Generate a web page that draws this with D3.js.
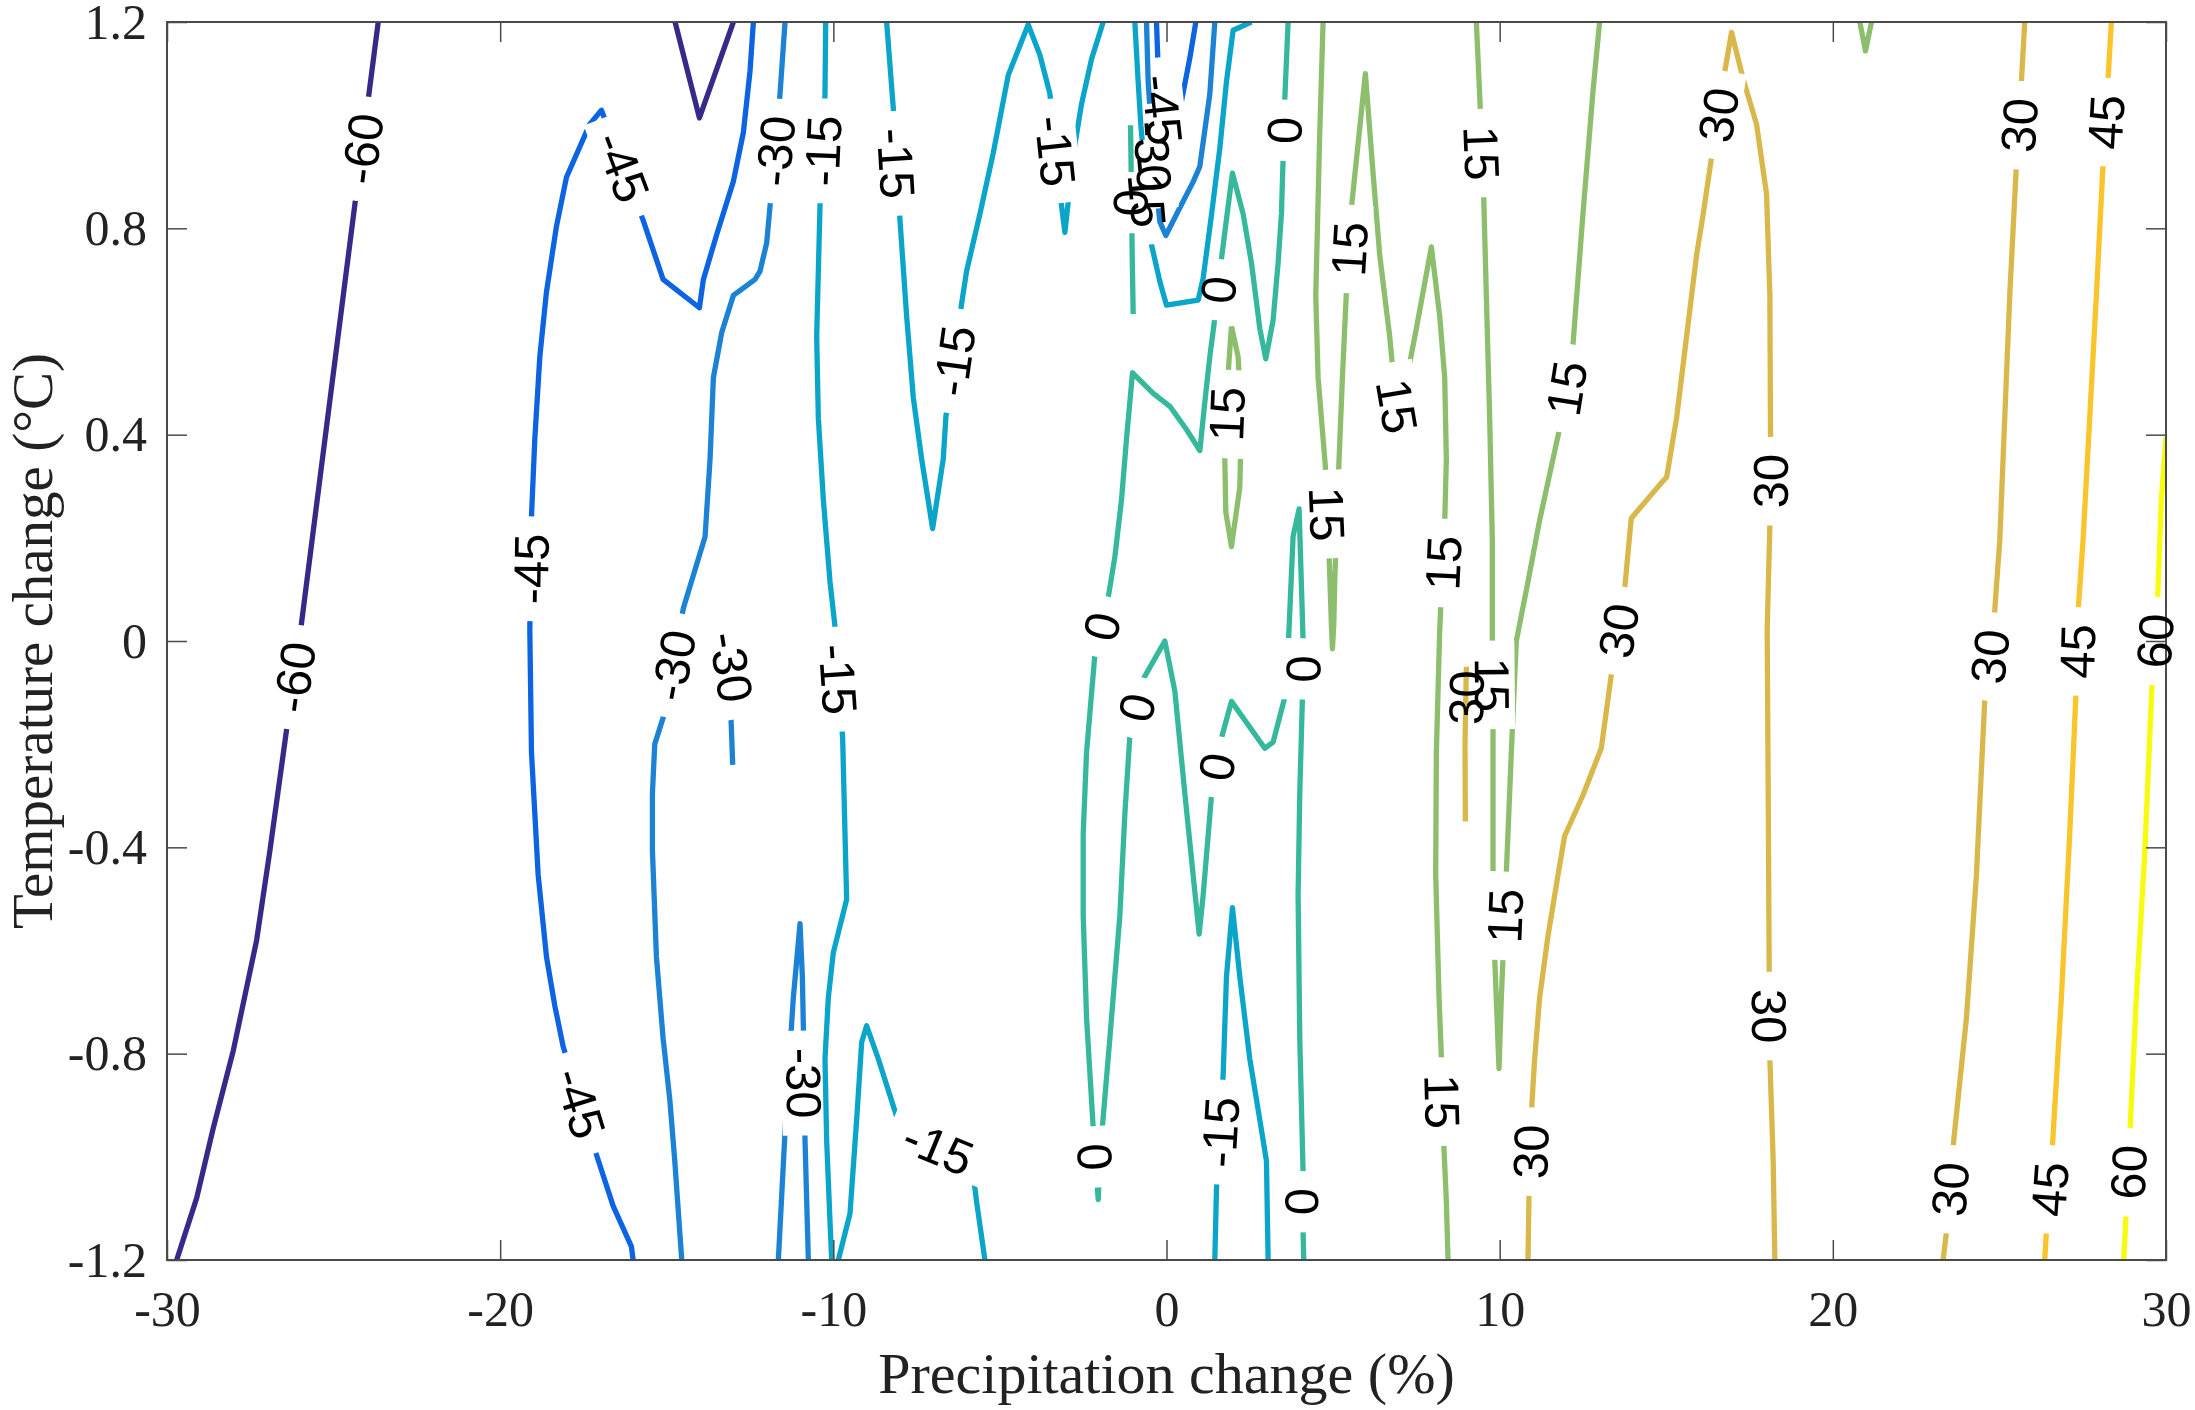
<!DOCTYPE html>
<html><head><meta charset="utf-8">
<script src="https://cdn.jsdelivr.net/npm/d3@7"></script>
<style>html,body{margin:0;padding:0;background:#fff;}svg{display:block;}</style>
</head><body>
<svg id="chart" width="2195" height="1410"></svg>
<script>
// ---------- axes ----------
const xTicks=[-30,-20,-10,0,10,20,30];
const xTickLabels=["-30","-20","-10","0","10","20","30"];
const yTicks=[-1.2,-0.8,-0.4,0,0.4,0.8,1.2];
const yTickLabels=["-1.2","-0.8","-0.4","0","0.4","0.8","1.2"];
const xTitle="Precipitation change (%)";
const yTitle="Temperature change (\u00B0C)";

// ---------- contour levels ----------
const levels=[-60,-45,-30,-15,0,15,30,45,60];
const levelColors=["#352a87","#0c64e0","#1c82d4","#0ba5ca","#36b89c","#8cbe6d","#d8b84b","#fac42c","#f9fb0e"];

// ---------- contour lines: [precipitation %, temperature °C] ----------
const cM60a=[[-29.71,-1.2],[-29.11,-1.08],[-28.61,-0.944],[-28.01,-0.794],[-27.31,-0.58],[-26.91,-0.406],[-26.43,-0.181],[-25.96,0.036],[-24.36,0.847],[-23.93,1.065],[-23.66,1.2]];
const lbM60a=[[-24.1,0.954],[-26.2,-0.07]];
const cM60b=[[-14.75,1.2],[-14.02,1.014],[-13.0,1.2]];

const cM45a=[[-12.4,1.2],[-12.5,1.105],[-12.7,0.986],[-13.0,0.891],[-13.5,0.788],[-13.9,0.701],[-14.02,0.646],[-15.11,0.701],[-15.71,0.816],[-16.96,1.029],[-17.31,1.002],[-18.01,0.899],[-18.31,0.804],[-18.61,0.677],[-18.81,0.551],[-18.96,0.392],[-19.06,0.242],[-19.11,0.021],[-19.06,-0.216],[-18.86,-0.453],[-18.61,-0.612],[-18.36,-0.707],[-18.11,-0.786],[-17.11,-0.996],[-16.61,-1.095],[-16.06,-1.174],[-16.01,-1.2]];
const lbM45a=[[-16.3,0.92],[-19.08,0.14],[-17.66,-0.897]];
const cM45b=[[-0.3,1.2],[-0.25,1.107],[-0.1,1.02],[0.15,0.96],[0.3,0.99],[0.4,1.03],[0.7,1.13],[0.88,1.2]];
const lbM45b=[[-0.12,1.03]];

const cM30a=[[-11.45,1.2],[-11.6,1.061],[-11.9,0.843],[-12.0,0.772],[-12.2,0.717],[-12.35,0.701],[-13.0,0.67],[-13.35,0.598],[-13.6,0.511],[-13.7,0.353],[-13.85,0.202],[-14.5,0.064],[-15.11,-0.149],[-15.36,-0.2],[-15.43,-0.295],[-15.43,-0.406],[-15.31,-0.612],[-15.11,-0.77],[-14.91,-0.888],[-14.76,-1.007],[-14.55,-1.2]];
const lbM30a=[[-11.75,0.95],[-14.83,-0.047]];
const cM30b=[[-13.25,0.03],[-13.05,-0.05],[-13.1,-0.1],[-13.06,-0.17],[-13.02,-0.24]];
const lbM30b=[[-13.0,-0.05]];
const cM30c=[[-11.65,-1.2],[-11.4,-0.889],[-11.2,-0.691],[-11.0,-0.548],[-10.93,-0.65],[-10.9,-0.746],[-10.85,-0.968],[-10.75,-1.2]];
const lbM30c=[[-10.88,-0.857]];
const cM30d=[[-0.6,1.2],[-0.55,1.084],[-0.4,0.94],[-0.2,0.813],[-0.02,0.786],[0.4,0.84],[0.8,0.89],[1.0,0.92],[1.3,1.06],[1.45,1.2]];
const lbM30d=[[-0.4,0.94]];

const cM15a=[[-10.23,1.2],[-10.25,1.061],[-10.4,0.843],[-10.5,0.59],[-10.45,0.432],[-10.3,0.274],[-10.1,0.115],[-9.95,0.028],[-9.72,-0.189],[-9.65,-0.374],[-9.6,-0.501],[-10.0,-0.604],[-10.15,-0.691],[-10.25,-0.81],[-10.2,-0.968],[-10.1,-1.126],[-10.05,-1.2]];
const lbM15a=[[-10.28,0.95],[-9.85,-0.074]];
const cM15b=[[-9.85,-1.2],[-9.5,-1.11],[-9.3,-0.928],[-9.15,-0.778],[-9.0,-0.746],[-8.65,-0.81],[-7.95,-0.952],[-5.85,-1.008],[-5.7,-1.087],[-5.45,-1.2]];
const lbM15b=[[-6.8,-0.975]];
const cM15c=[[-8.4,1.2],[-8.2,1.033],[-8.0,0.816],[-7.8,0.63],[-7.6,0.472],[-7.35,0.353],[-7.02,0.218],[-6.7,0.353],[-6.62,0.436],[-6.15,0.654],[-6.0,0.717],[-5.6,0.828],[-5.2,0.946],[-4.75,1.097],[-4.15,1.195],[-3.8,1.136],[-3.5,1.061],[-3.15,0.843],[-3.05,0.792],[-2.95,0.851],[-2.75,0.962],[-2.55,1.041],[-2.25,1.128],[-1.9,1.2]];
const lbM15c=[[-8.12,0.926],[-6.38,0.543],[-3.32,0.95]];
const cM15d=[[-0.95,1.2],[-0.85,1.084],[-0.77,1.0],[-0.45,0.768],[-0.2,0.697],[0.0,0.651],[0.95,0.661],[1.1,0.703],[1.35,0.826],[1.6,0.955],[1.8,1.084],[2.0,1.184],[2.55,1.2]];
const lbM15d=[[-0.62,0.87]];
const cM15e=[[1.45,-1.2],[1.5,-1.063],[1.7,-0.841],[1.8,-0.651],[1.98,-0.517],[2.2,-0.651],[2.5,-0.81],[2.8,-0.928],[3.0,-1.008],[3.05,-1.2]];
const lbM15e=[[1.6,-0.952]];

const c0a=[[3.65,1.2],[3.55,1.05],[3.5,0.935],[3.45,0.828],[3.35,0.733],[3.2,0.622],[2.98,0.547],[2.8,0.606],[2.55,0.733],[2.3,0.828],[1.98,0.907],[1.85,0.843],[1.65,0.741],[1.45,0.626],[1.3,0.551],[1.15,0.463],[1.0,0.369],[0.6,0.41],[0.1,0.455],[-0.4,0.48],[-1.02,0.52],[-1.2,0.392],[-1.35,0.274],[-1.55,0.163],[-1.75,0.084],[-2.15,-0.026],[-2.4,-0.216],[-2.5,-0.374],[-2.5,-0.532],[-2.4,-0.73],[-2.2,-0.944],[-2.05,-1.083],[-2.0,-1.0],[-1.7,-0.77],[-1.4,-0.532],[-1.25,-0.335],[-1.1,-0.184],[-0.7,-0.074],[-0.05,0.0],[0.25,-0.097],[0.55,-0.295],[0.8,-0.454],[0.98,-0.568],[1.1,-0.493],[1.35,-0.3],[1.65,-0.188],[1.95,-0.117],[2.95,-0.208],[3.2,-0.196],[3.6,-0.097],[3.65,-0.017],[3.8,0.203],[3.98,0.256],[4.1,0.0],[4.08,-0.109],[4.0,-0.295],[3.95,-0.493],[4.0,-0.77],[4.1,-1.031],[4.1,-1.146],[4.12,-1.2]];
const lb0a=[[3.52,0.99],[1.55,0.681],[-1.95,0.028],[-2.13,-1.0],[-0.9,-0.129],[1.5,-0.244],[4.09,-0.054],[4.1,-1.087]];
const c0b=[[-1.08,1.0],[-1.06,0.91],[-1.03,0.75],[-1.0,0.634]];
const lb0b=[[-1.05,0.85]];

const c15a=[[4.7,1.2],[4.6,0.986],[4.48,0.67],[4.55,0.511],[4.78,0.329],[4.88,0.167],[4.95,0.03],[4.98,-0.015],[5.02,0.03],[5.05,0.116],[5.15,0.305],[5.28,0.511],[5.4,0.677],[5.55,0.84],[5.97,1.1],[6.2,0.907],[6.4,0.748],[6.7,0.59],[6.85,0.487],[7.0,0.43],[7.1,0.472],[7.5,0.606],[7.95,0.764],[8.2,0.63],[8.35,0.511],[8.4,0.353],[8.35,0.23],[8.2,0.021],[8.1,-0.216],[8.08,-0.453],[8.18,-0.691],[8.25,-0.806],[8.32,-0.972],[8.4,-1.086],[8.45,-1.2]];
const lb15a=[[4.8,0.246],[5.48,0.76],[6.9,0.455],[8.33,0.151],[8.27,-0.893]];
const c15b=[[9.3,1.2],[9.42,1.03],[9.52,0.863],[9.6,0.67],[9.7,0.432],[9.78,0.194],[9.78,0.0],[9.8,-0.169],[9.8,-0.454],[9.85,-0.612],[9.98,-0.829],[10.05,-0.691],[10.1,-0.616],[10.2,-0.45],[10.35,-0.216],[10.5,0.0],[10.85,0.115],[11.2,0.234],[11.8,0.412],[12.2,0.574],[12.5,0.828],[12.8,1.065],[13.0,1.2]];
const lb15b=[[9.47,0.946],[9.79,-0.085],[10.15,-0.533],[12.0,0.49]];
const c15c=[[1.95,0.61],[1.85,0.519],[1.8,0.44],[1.75,0.353],[1.78,0.25],[1.95,0.183],[2.2,0.298],[2.25,0.432],[2.15,0.551],[1.95,0.61]];
const lb15c=[[1.8,0.44]];
const c15d=[[20.81,1.2],[20.98,1.144],[21.16,1.2]];

const c30a=[[10.85,-1.2],[10.88,-1.079],[10.95,-0.917],[11.05,-0.81],[11.2,-0.691],[11.45,-0.572],[11.75,-0.454],[11.95,-0.378],[12.5,-0.299],[13.05,-0.208],[13.35,-0.066],[13.75,0.1],[13.95,0.238],[14.9,0.31],[15.01,0.317],[15.31,0.432],[15.61,0.59],[15.91,0.748],[16.11,0.828],[16.36,0.938],[16.76,1.105],[16.96,1.18],[17.31,1.089],[17.71,1.002],[18.01,0.867],[18.11,0.67],[18.13,0.397],[18.11,0.226],[18.03,0.021],[18.06,-0.295],[18.09,-0.643],[18.11,-0.81],[18.21,-1.008],[18.26,-1.2]];
const lb30a=[[16.55,1.02],[13.55,0.02],[10.92,-0.99],[18.12,0.31],[18.1,-0.727]];
const c30b=[[25.76,1.2],[25.66,1.085],[25.51,0.923],[25.31,0.67],[25.16,0.432],[25.01,0.195],[24.86,0.06],[24.56,-0.113],[24.31,-0.454],[24.01,-0.731],[23.61,-0.98],[23.41,-1.146],[23.31,-1.2]];
const lb30b=[[25.58,1.0],[24.7,-0.03],[23.53,-1.063]];
const c30c=[[9.0,-0.05],[8.96,-0.2],[8.97,-0.35]];
const lb30c=[[8.9,-0.11]];

const c45a=[[28.36,1.2],[28.26,1.089],[28.11,0.923],[27.91,0.67],[27.71,0.432],[27.51,0.195],[27.36,0.056],[27.29,-0.113],[27.11,-0.374],[26.86,-0.691],[26.59,-0.98],[26.41,-1.146],[26.36,-1.2]];
const lb45a=[[28.2,1.006],[27.33,-0.02],[26.5,-1.063]];

const c60a=[[30.0,0.396],[29.86,0.273],[29.76,0.1],[29.59,-0.07],[29.36,-0.414],[29.11,-0.691],[28.93,-0.936],[28.81,-1.102],[28.73,-1.2]];
const lb60a=[[29.68,0.0],[28.88,-1.03]];

const contours=[
  {level:-60,pts:cM60a,labels:lbM60a},{level:-60,pts:cM60b,labels:[]},
  {level:-45,pts:cM45a,labels:lbM45a},{level:-45,pts:cM45b,labels:lbM45b},
  {level:-30,pts:cM30a,labels:lbM30a},{level:-30,pts:cM30b,labels:lbM30b},
  {level:-30,pts:cM30c,labels:lbM30c},{level:-30,pts:cM30d,labels:lbM30d},
  {level:-15,pts:cM15a,labels:lbM15a},{level:-15,pts:cM15b,labels:lbM15b},
  {level:-15,pts:cM15c,labels:lbM15c},{level:-15,pts:cM15d,labels:lbM15d},
  {level:-15,pts:cM15e,labels:lbM15e},
  {level:0,pts:c0a,labels:lb0a},{level:0,pts:c0b,labels:lb0b},
  {level:15,pts:c15a,labels:lb15a},{level:15,pts:c15b,labels:lb15b},
  {level:15,pts:c15c,labels:lb15c},{level:15,pts:c15d,labels:[]},
  {level:30,pts:c30a,labels:lb30a},{level:30,pts:c30b,labels:lb30b},
  {level:30,pts:c30c,labels:lb30c,gap:false},
  {level:45,pts:c45a,labels:lb45a},
  {level:60,pts:c60a,labels:lb60a}
];

// ---------- drawing ----------
const W=2195,H=1410;
const plot={left:167,right:2166,top:22,bottom:1260};
const svg=d3.select("#chart");
const x=d3.scaleLinear().domain([-30,30]).range([plot.left,plot.right]);
const y=d3.scaleLinear().domain([-1.2,1.2]).range([plot.bottom,plot.top]);
const colorOf=d3.scaleOrdinal().domain(levels).range(levelColors);
const axisColor="#4a4a4a";
const serif="'Liberation Serif','Times New Roman',serif";
const sans="'Liberation Sans',Arial,Helvetica,sans-serif";
const labelSize=49;

const defs=svg.append("defs");
defs.append("clipPath").attr("id","plotclip").append("rect")
  .attr("x",plot.left).attr("y",plot.top)
  .attr("width",plot.right-plot.left).attr("height",plot.bottom-plot.top);

const linesG=svg.append("g").attr("clip-path","url(#plotclip)");
const axesG=svg.append("g");
const labelG=svg.append("g").style("font-family",sans).style("font-size",labelSize+"px").attr("fill","#000");

function project(sp,px,py){
  let best=null;
  for(let i=0;i<sp.length-1;i++){
    const a=sp[i],b=sp[i+1];
    const vx=b[0]-a[0],vy=b[1]-a[1];
    const L2=vx*vx+vy*vy;
    let t=L2>0?((px-a[0])*vx+(py-a[1])*vy)/L2:0;
    t=Math.max(0,Math.min(1,t));
    const qx=a[0]+t*vx,qy=a[1]+t*vy;
    const d=(qx-px)*(qx-px)+(qy-py)*(qy-py);
    if(!best||d<best.d){
      let ang=Math.atan2(vy,vx)*180/Math.PI;
      while(ang>90)ang-=180;
      while(ang<=-90)ang+=180;
      best={d:d,x:qx,y:qy,a:ang};
    }
  }
  return best;
}

const lineGen=d3.line().x(d=>x(d[0])).y(d=>y(d[1]));

contours.forEach((c,i)=>{
  const sp=c.pts.map(p=>[x(p[0]),y(p[1])]);
  const mask=defs.append("mask").attr("id","lm"+i).attr("maskUnits","userSpaceOnUse")
    .attr("x",0).attr("y",0).attr("width",W).attr("height",H);
  mask.append("rect").attr("x",0).attr("y",0).attr("width",W).attr("height",H).attr("fill","#fff");
  c.labels.forEach(lp=>{
    const pr=project(sp,x(lp[0]),y(lp[1]));
    const tf=`translate(${pr.x.toFixed(2)},${pr.y.toFixed(2)}) rotate(${pr.a.toFixed(2)})`;
    const t=labelG.append("text").attr("transform",tf).attr("text-anchor","middle")
      .attr("dy","0.36em").text(String(c.level));
    const len=t.node().getComputedTextLength();
    if(c.gap!==false){
      mask.append("rect").attr("x",-len/2-17).attr("y",-labelSize*0.45)
        .attr("width",len+34).attr("height",labelSize*0.9)
        .attr("transform",tf).attr("fill","#000");
    }
  });
  linesG.append("path").attr("d",lineGen(c.pts)).attr("fill","none")
    .attr("stroke",colorOf(c.level)).attr("stroke-width",5.3)
    .attr("stroke-linejoin","round").attr("stroke-linecap","butt")
    .attr("mask","url(#lm"+i+")");
});

// axes with inward ticks
function styleAxis(g){
  g.select(".domain").remove();
  g.selectAll(".tick line").attr("stroke",axisColor).attr("stroke-width",1.5);
  g.selectAll(".tick text").attr("fill","#222").style("font-family",serif).style("font-size","50px");
}
axesG.append("g").attr("transform",`translate(0,${plot.bottom})`)
  .call(d3.axisBottom(x).tickValues(xTicks).tickFormat((d,i)=>xTickLabels[i]).tickSize(-20).tickPadding(30))
  .call(styleAxis);
axesG.append("g").attr("transform",`translate(${plot.left},0)`)
  .call(d3.axisLeft(y).tickValues(yTicks).tickFormat((d,i)=>yTickLabels[i]).tickSize(-20).tickPadding(20))
  .call(styleAxis);
axesG.append("g").attr("transform",`translate(0,${plot.top})`)
  .call(d3.axisTop(x).tickValues(xTicks).tickFormat("").tickSize(-20))
  .call(styleAxis);
axesG.append("g").attr("transform",`translate(${plot.right},0)`)
  .call(d3.axisRight(y).tickValues(yTicks).tickFormat("").tickSize(-20))
  .call(styleAxis);
axesG.append("rect").attr("x",plot.left).attr("y",plot.top)
  .attr("width",plot.right-plot.left).attr("height",plot.bottom-plot.top)
  .attr("fill","none").attr("stroke",axisColor).attr("stroke-width",2);

svg.append("text").attr("x",(plot.left+plot.right)/2).attr("y",1393)
  .attr("text-anchor","middle").attr("fill","#222")
  .style("font-family",serif).style("font-size","58px").text(xTitle);
svg.append("text").attr("transform",`translate(52,${(plot.top+plot.bottom)/2}) rotate(-90)`)
  .attr("text-anchor","middle").attr("fill","#222")
  .style("font-family",serif).style("font-size","57px").text(yTitle);
</script>
</body></html>
